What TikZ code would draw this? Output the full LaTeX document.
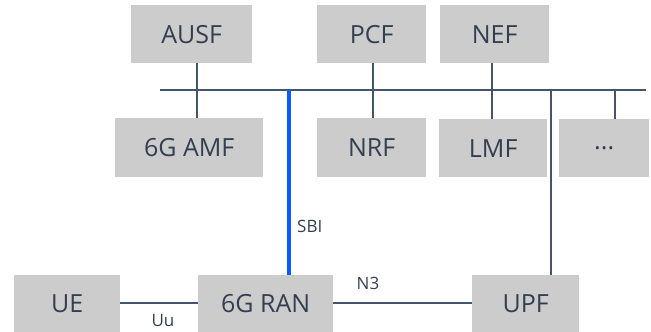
\documentclass[tikz,border=0pt]{standalone}
\usepackage{fontspec}
\setmainfont{Open Sans}
\usetikzlibrary{positioning}

\definecolor{nfgray}{HTML}{CCCCCC}
\definecolor{nftext}{HTML}{333F50}
\definecolor{nfline}{HTML}{44546A}
\definecolor{sbiblue}{HTML}{0A5BFF}

\begin{document}
\begin{tikzpicture}[x=1pt, y=-1pt,
  nf/.style={fill=nfgray, text=nftext, inner sep=0pt, anchor=north west,
             font=\fontsize{25}{30}\selectfont},
  iflbl/.style={text=nftext, inner sep=1pt, font=\fontsize{17}{20}\selectfont},
  link/.style={draw=nfline, line width=2pt},
  sbi/.style={draw=sbiblue, line width=3.8pt},
]
  \useasboundingbox (0,0) rectangle (651,332);

  % --- control plane functions, top row ---
  \node[nf, minimum width=121pt, minimum height=58pt] (ausf) at (131,5)   {AUSF};
  \node[nf, minimum width=109pt, minimum height=58pt] (pcf)  at (317,5)   {PCF};
  \node[nf, minimum width=109pt, minimum height=58pt] (nef)  at (440,5)   {NEF};

  % --- second row ---
  \node[nf, minimum width=148pt, minimum height=59pt] (amf)  at (115,118) {6G AMF};
  \node[nf, minimum width=109pt, minimum height=59pt] (nrf)  at (317,118) {NRF};
  \node[nf, minimum width=108pt, minimum height=58pt] (lmf)  at (439,119) {LMF};
  \node[nf, minimum width=90pt,  minimum height=58pt] (more) at (559,119) {...};

  % --- access and user plane ---
  \node[nf, minimum width=106pt, minimum height=57pt] (ue)   at (14,275)  {UE};
  \node[nf, minimum width=135pt, minimum height=57pt] (ran)  at (198,275) {6G RAN};
  \node[nf, minimum width=107pt, minimum height=57pt] (upf)  at (472,275) {UPF};

  % Service based bus
  \coordinate (busL) at (160,90);
  \coordinate (busR) at (646,90);
  \draw[link] (busL) -- (busR);

  % Drops to the bus
  \draw[link] (ausf.south -| 197,0) -- (amf.north -| 197,0);
  \draw[link] (pcf.south -| 373,0)  -- (nrf.north -| 373,0);
  \draw[link] (nef.south -| 492,0)  -- (lmf.north -| 492,0);
  \draw[link] (busL -| 615,0) -- (more.north -| 615,0);
  \draw[link] (busL -| 551,0) -- (upf.north -| 551,0);
  \draw[sbi]  (busL -| 289,0) -- (ran.north -| 289,0);

  % Interfaces
  \draw[link] (ue.east |- 0,303) -- (ran.west |- 0,303);
  \draw[link] (ran.east |- 0,303) -- (upf.west |- 0,303);

  \node[iflbl, anchor=west] (sbilbl) at (296,226) {SBI};
  \node[iflbl] (n3lbl) at (368,283) {N3};
  \node[iflbl] (uulbl) at (163,321) {Uu};
\end{tikzpicture}
\end{document}
